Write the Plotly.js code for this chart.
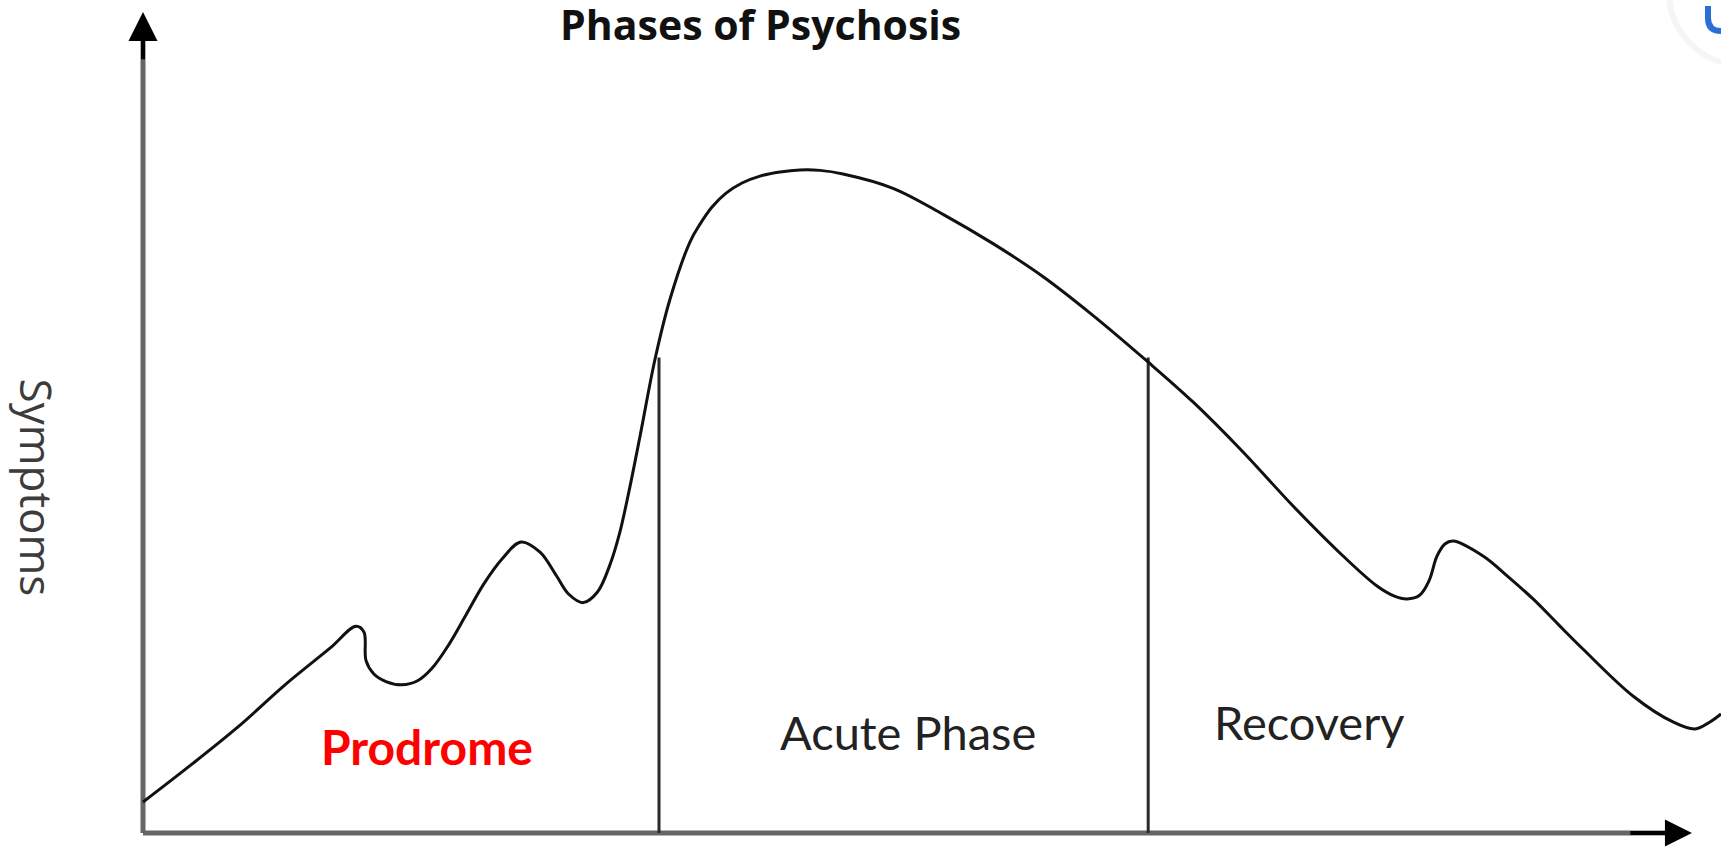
<!DOCTYPE html>
<html>
<head>
<meta charset="utf-8">
<script src="https://cdn.plot.ly/plotly-3.0.1.min.js"></script>
<style>
  html, body { margin: 0; padding: 0; background: #fff; }
  #chart { width: 1721px; height: 850px; }
</style>
</head>
<body>
<div id="chart"></div>
<script>
// symptom course over time (arbitrary units, 0..100)
var timeVals = [0, 3, 6, 9, 11.85, 13.5, 14.0, 14.13, 14.6, 15.4, 16.4, 17.4, 18.3, 19.4, 20.5,
  21.6, 22.75, 23.95, 25.16, 26.2, 27.0, 27.9, 28.8, 29.6, 30.2, 30.8, 31.5, 32.45, 33.4,
  34.66, 35.3, 36.06, 36.95, 37.96, 39.1, 40.37, 41.63, 42.9, 44.36, 47.53, 50.7, 53.87,
  57.0, 60.0, 63.69, 66.54, 69.71, 72.88, 76.05, 78.2, 79.3, 80.1, 80.9, 81.5, 82.0, 82.5,
  83.02, 84.92, 86.5, 88.09, 89.7, 91.25, 94.42, 96.96, 98.35, 99.3, 100];
var symptomVals = [3.8, 8.3, 13.0, 18.2, 22.7, 25.4, 24.7, 21.2, 19.6, 18.6, 18.2, 18.7,
  20.2, 23.2, 26.9, 30.6, 33.66, 35.75, 34.5, 31.6, 29.3, 28.3, 29.6, 33.0, 36.8, 42.0,
  48.77, 58.23, 65.6, 72.6, 74.8, 76.9, 78.6, 79.85, 80.7, 81.2, 81.45, 81.4, 80.96, 79.2,
  76.0, 72.4, 68.4, 63.9, 57.86, 52.95, 46.81, 40.17, 34.03, 30.34, 29.1, 28.75, 29.2,
  31.0, 34.0, 35.5, 35.87, 34.03, 31.5, 28.75, 25.6, 22.6, 16.83, 13.64, 12.78, 13.64, 14.62];

// phase boundaries and their heights
var phaseBounds = [32.7, 63.7];
var boundTops = [58.4, 58.4];
var phaseNames = ["Prodrome", "Acute Phase", "Recovery"];

var xTip = 98.16, yTip = 100.86;

var traces = [];

// axis shafts
traces.push({x: [0, xTip - 1], y: [0, 0], mode: "lines", line: {color: "#666", width: 5}, hoverinfo: "skip"});
traces.push({x: [0, 0], y: [0, yTip - 2], mode: "lines", line: {color: "#666", width: 5}, hoverinfo: "skip"});

// phase boundary lines
for (var i = 0; i < phaseBounds.length; i++) {
  traces.push({
    x: [phaseBounds[i], phaseBounds[i]], y: [0, boundTops[i]],
    mode: "lines", line: {color: "#2a2a2a", width: 3}, hoverinfo: "skip"
  });
}

traces.push({
  x: timeVals, y: symptomVals, mode: "lines",
  line: {color: "#111", width: 3, shape: "spline", smoothing: 1},
  hoverinfo: "skip"
});

var labelFont = {family: "Lato, 'Open Sans', sans-serif", size: 47, color: "#222"};

var layout = {
  width: 1721, height: 850,
  margin: {l: 0, r: 0, t: 0, b: 0},
  paper_bgcolor: "#fff", plot_bgcolor: "#fff",
  showlegend: false,
  title: {
    text: "<b>Phases of Psychosis</b>",
    font: {family: "'Open Sans', sans-serif", size: 41, color: "#111"},
    x: 0.442, xanchor: "center", xref: "container",
    y: 1 - 26 / 850, yanchor: "middle", yref: "container"
  },
  xaxis: {range: [-9.062, 100], visible: false, fixedrange: true},
  yaxis: {range: [-2.09, 102.33], visible: false, fixedrange: true},
  annotations: [
    {x: 18.0, y: 10.6, xref: "x", yref: "y", showarrow: false, text: "<b>" + phaseNames[0] + "</b>",
     font: {family: labelFont.family, size: 48, color: "#ff0000"}},
    {x: 48.5, y: 12.4, xref: "x", yref: "y", showarrow: false, text: phaseNames[1], font: labelFont},
    {x: 73.9, y: 13.6, xref: "x", yref: "y", showarrow: false, text: phaseNames[2], font: labelFont},
    {x: -6.7, y: 42.4, xref: "x", yref: "y", showarrow: false, text: "Symptoms", textangle: 90,
     font: {family: "'Open Sans', sans-serif", size: 44, color: "#3c3c3c"}},
    // arrow heads
    {x: xTip, y: 0, ax: xTip - 4, ay: 0, xref: "x", yref: "y", axref: "x", ayref: "y",
     text: "", showarrow: true, arrowhead: 2, arrowsize: 1.35, arrowwidth: 4, arrowcolor: "#000"},
    {x: 0, y: yTip, ax: 0, ay: yTip - 6, xref: "x", yref: "y", axref: "x", ayref: "y",
     text: "", showarrow: true, arrowhead: 2, arrowsize: 1.45, arrowwidth: 4, arrowcolor: "#000"}
  ],
  shapes: [
    {type: "circle", xref: "paper", yref: "paper",
     x0: 1669 / 1721, x1: 1815 / 1721, y0: 1 - 65 / 850, y1: 1 + 81 / 850,
     line: {color: "rgba(0,0,0,0.04)", width: 6}, fillcolor: "#fff"},
    {type: "path", xref: "paper", yref: "paper",
     path: "M " + (1708 / 1721) + " " + (1 - 6 / 850) + " L " + (1708 / 1721) + " " + (1 - 18 / 850) +
           " Q " + (1708 / 1721) + " " + (1 - 31 / 850) + " " + 1 + " " + (1 - 31 / 850),
     line: {color: "#2a6fd6", width: 6}}
  ]
};

Plotly.newPlot("chart", traces, layout, {staticPlot: true});
</script>
</body>
</html>
